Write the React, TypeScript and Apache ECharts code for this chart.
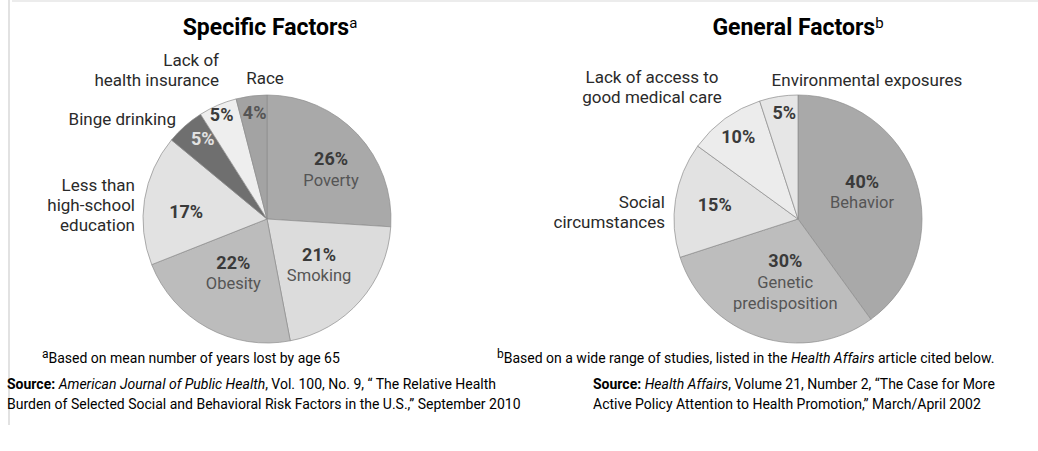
import React, { useEffect, useRef } from "react";
import * as echarts from "echarts";

// ---------- data ----------
const specificNames = [
  "Poverty",
  "Smoking",
  "Obesity",
  "Less than\nhigh-school\neducation",
  "Binge drinking",
  "Lack of\nhealth insurance",
  "Race",
];
const specificValues = [26, 21, 22, 17, 5, 5, 4];
const specificNameInside = [true, true, true, false, false, false, false];

const generalNames = [
  "Behavior",
  "Genetic\npredisposition",
  "Social\ncircumstances",
  "Lack of access to\ngood medical care",
  "Environmental exposures",
];
const generalValues = [40, 30, 15, 10, 5];
const generalNameInside = [true, true, false, false, false];

const titles = ["Specific Factors", "General Factors"];
const titleMarks = ["a", "b"];

// ---------- styles ----------
const FONT = "Roboto, 'Liberation Sans', sans-serif";
const specificColors = ["#a9a9a9", "#dcdcdc", "#bcbcbc", "#e2e2e2", "#6f6f6f", "#eeeeee", "#a3a3a3"];
const generalColors = ["#a9a9a9", "#bdbdbd", "#e2e2e2", "#ececec", "#e6e6e6"];
const specificPctColors = ["#3a3a3a", "#3a3a3a", "#3a3a3a", "#3a3a3a", "#e2e2e2", "#3a3a3a", "#555555"];
const generalPctColors = ["#3a3a3a", "#3a3a3a", "#3a3a3a", "#3a3a3a", "#3a3a3a"];
// radial fraction of label placement per slice, plus small pixel nudges
const specificLabelFrac = [0.62, 0.56, 0.53, 0.66, 0.82, 0.9, 0.86];
const specificNudge = [[8, 3], [0, 0], [-2, -4], [0, 5], [3, -4], [-1, -2], [1, -1]];
const generalLabelFrac = [0.56, 0.54, 0.68, 0.82, 0.86];
const generalNudge = [[-2, -6], [8, -1], [0, -1], [0, 0], [3, -1]];

const LEFT = { cx: 267, cy: 219, r: 124 };
const RIGHT = { cx: 798, cy: 219, r: 124 };

// outside name label placement
const specificOutside: Record<number, { x: number; y: number; align: string }> = {
  3: { x: 135, y: 205, align: "right" },
  4: { x: 176, y: 119, align: "right" },
  5: { x: 219, y: 70, align: "right" },
  6: { x: 265, y: 78, align: "center" },
};
const generalOutside: Record<number, { x: number; y: number; align: string }> = {
  2: { x: 665, y: 212, align: "right" },
  3: { x: 652, y: 87, align: "center" },
  4: { x: 867, y: 80, align: "center" },
};

function midAngles(values: number[]) {
  const total = values.reduce((a, b) => a + b, 0);
  let acc = 0;
  return values.map((v) => {
    const mid = (acc + v / 2) / total;
    acc += v;
    return mid * Math.PI * 2;
  });
}

function makePie(
  names: string[],
  values: number[],
  colors: string[],
  pctColors: string[],
  nameInside: boolean[],
  frac: number[],
  nudge: number[][],
  geo: { cx: number; cy: number; r: number }
) {
  const mids = midAngles(values);
  return {
    type: "pie",
    center: [geo.cx, geo.cy],
    radius: geo.r,
    startAngle: 90,
    clockwise: true,
    silent: true,
    avoidLabelOverlap: false,
    data: names.map((n, i) => ({
      name: n,
      value: values[i],
      itemStyle: { color: colors[i] },
      label: {
        rich: {
          p: { fontFamily: FONT, fontSize: 18, fontWeight: "bold", color: pctColors[i], lineHeight: 22, align: "center" },
          n: { fontFamily: FONT, fontSize: 16.5, color: "#555555", lineHeight: 21, align: "center" },
        },
      },
    })),
    itemStyle: { borderColor: "#8c8c8c", borderWidth: 0.7 },
    label: {
      show: true,
      position: "inside",
      formatter: (p: any) =>
        nameInside[p.dataIndex]
          ? `{p|${p.value}%}\n` + String(p.name).split("\n").map((s) => `{n|${s}}`).join("\n")
          : `{p|${p.value}%}`,
    },
    labelLine: { show: false },
    labelLayout: (params: any) => {
      const i = params.dataIndex;
      const a = mids[i];
      return {
        x: geo.cx + frac[i] * geo.r * Math.sin(a) + nudge[i][0],
        y: geo.cy - frac[i] * geo.r * Math.cos(a) + nudge[i][1],
        align: "center",
        verticalAlign: "middle",
      };
    },
  };
}

function outsideTexts(names: string[], place: Record<number, { x: number; y: number; align: string }>) {
  return Object.keys(place).map((k) => {
    const i = Number(k);
    const pl = place[i];
    return {
      type: "text",
      silent: true,
      style: {
        text: names[i],
        x: pl.x,
        y: pl.y,
        align: pl.align,
        verticalAlign: "middle",
        font: `17px ${FONT}`,
        lineHeight: 20,
        fill: "#2a2a2a",
      },
    };
  });
}

export default function App() {
  const ref = useRef<HTMLDivElement>(null);
  useEffect(() => {
    if (!ref.current) return;
    const chart = echarts.init(ref.current, undefined, { renderer: "svg" });
    const titleRich = {
      t: { fontFamily: FONT, fontSize: 23, fontWeight: "bold", color: "#333333" },
      s: { fontFamily: FONT, fontSize: 15, color: "#333333", verticalAlign: "top" },
    };
    const LH = 20;
    const FS = 14;
    const footRich = {
      r: { fontFamily: FONT, fontSize: FS, color: "#2a2a2a", lineHeight: LH },
      i: { fontFamily: FONT, fontSize: FS, color: "#2a2a2a", fontStyle: "italic", lineHeight: LH },
      b: { fontFamily: FONT, fontSize: FS, color: "#2a2a2a", fontWeight: "bold", lineHeight: LH },
      s: { fontFamily: FONT, fontSize: 12, color: "#2a2a2a", verticalAlign: "top", lineHeight: LH },
    };
    chart.setOption({
      animation: false,
      backgroundColor: "#ffffff",
      series: [
        makePie(specificNames, specificValues, specificColors, specificPctColors, specificNameInside, specificLabelFrac, specificNudge, LEFT),
        makePie(generalNames, generalValues, generalColors, generalPctColors, generalNameInside, generalLabelFrac, generalNudge, RIGHT),
      ],
      graphic: [
        { type: "line", silent: true, shape: { x1: 9, y1: 0, x2: 9, y2: 425 }, style: { stroke: "#e2e2e2", lineWidth: 2 } },
        { type: "line", silent: true, shape: { x1: 12, y1: 1, x2: 1038, y2: 1 }, style: { stroke: "#ececec", lineWidth: 2 } },
        {
          type: "text",
          silent: true,
          style: {
            text: `{t|${titles[0]}}{s|${titleMarks[0]}}`,
            rich: titleRich,
            x: 270,
            y: 27,
            align: "center",
            verticalAlign: "middle",
          },
        },
        {
          type: "text",
          silent: true,
          style: {
            text: `{t|${titles[1]}}{s|${titleMarks[1]}}`,
            rich: titleRich,
            x: 798,
            y: 27,
            align: "center",
            verticalAlign: "middle",
          },
        },
        ...outsideTexts(specificNames, specificOutside),
        ...outsideTexts(generalNames, generalOutside),
        {
          type: "text",
          silent: true,
          style: {
            text: "{s|a}{r|Based on mean number of years lost by age 65}",
            rich: footRich,
            x: 42,
            y: 358,
            verticalAlign: "middle",
          },
        },
        {
          type: "text",
          silent: true,
          style: {
            text: "{s|b}{r|Based on a wide range of studies, listed in the }{i|Health Affairs}{r| article cited below.}",
            rich: footRich,
            x: 497,
            y: 358,
            verticalAlign: "middle",
          },
        },
        {
          type: "text",
          silent: true,
          style: {
            text:
              "{b|Source: }{i|American Journal of Public Health}{r|, Vol. 100, No. 9, \u201C The Relative Health}\n{r|Burden of Selected Social and Behavioral Risk Factors in the U.S.,\u201D September 2010}",
            rich: footRich,
            x: 7,
            y: 394,
            verticalAlign: "middle",
          },
        },
        {
          type: "text",
          silent: true,
          style: {
            text:
              "{b|Source: }{i|Health Affairs}{r|, Volume 21, Number 2, \u201CThe Case for More}\n{r|Active Policy Attention to Health Promotion,\u201D March/April 2002}",
            rich: footRich,
            x: 593,
            y: 394,
            verticalAlign: "middle",
          },
        },
      ],
    });
    return () => chart.dispose();
  }, []);
  return <div ref={ref} style={{ position: "absolute", left: 0, top: 0, width: 1038, height: 451 }} />;
}
